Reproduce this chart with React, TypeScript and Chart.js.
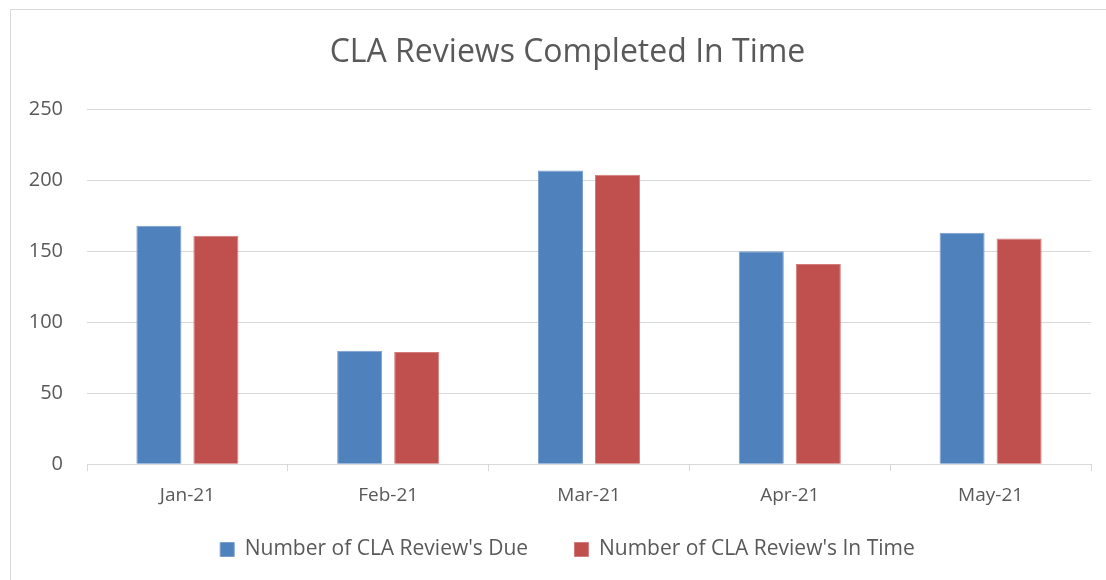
import React, { useEffect, useRef } from "react";
import { Chart, registerables } from "chart.js";
Chart.register(...registerables);

const titleText = "CLA Reviews Completed In Time";
const categories = ["Jan-21", "Feb-21", "Mar-21", "Apr-21", "May-21"];
const seriesNames = ["Number of CLA Review's Due", "Number of CLA Review's In Time"];
const dueValues = [168, 80, 207, 150, 163];
const inTimeValues = [161, 79, 204, 141, 159];
const yMin = 0;
const yMax = 250;
const yStep = 50;

const FONT = "'Open Sans', 'DejaVu Sans', sans-serif";
const TEXT = "#595959";
const GRID = "#d9d9d9";

export default function App() {
  const ref = useRef<HTMLCanvasElement | null>(null);
  useEffect(() => {
    if (!ref.current) return;
    const chart = new Chart(ref.current, {
      type: "bar",
      data: {
        labels: categories,
        datasets: [
          {
            label: seriesNames[0],
            data: dueValues,
            backgroundColor: "#4F81BD",
            borderColor: "#7A9FCF",
            borderWidth: 1,
          },
          {
            label: seriesNames[1],
            data: inTimeValues,
            backgroundColor: "#C0504D",
            borderColor: "#D27D7B",
            borderWidth: 1,
          },
        ],
      },
      options: {
        animation: false,
        responsive: false,
        maintainAspectRatio: false,
        layout: { padding: { left: 33, right: 28, top: 0, bottom: 11 } },
        datasets: { bar: { categoryPercentage: 0.568, barPercentage: 0.79 } },
        plugins: {
          title: {
            display: true,
            text: titleText,
            color: TEXT,
            font: { family: FONT, size: 32, weight: "normal" },
            padding: { top: 24, bottom: 37 },
          },
          legend: {
            position: "bottom",
            labels: {
              color: TEXT,
              font: { family: FONT, size: 21 },
              boxWidth: 14,
              boxHeight: 14,
              padding: 19,
              generateLabels: (c: any) => {
                const items = Chart.defaults.plugins.legend.labels.generateLabels(c);
                return items.map((it: any, i: number) => ({
                  ...it,
                  text: i === 0 ? it.text + "     " : it.text,
                }));
              },
            },
          },
          tooltip: { enabled: false },
        },
        scales: {
          x: {
            grid: {
              display: true,
              offset: true,
              drawOnChartArea: false,
              drawTicks: true,
              tickLength: 7,
              color: GRID,
            },
            border: { display: true, color: GRID },
            ticks: { color: TEXT, font: { family: FONT, size: 19 }, padding: 13 },
          },
          y: {
            min: yMin,
            max: yMax,
            ticks: { stepSize: yStep, color: TEXT, font: { family: FONT, size: 20 }, padding: 24 },
            grid: { color: GRID, drawTicks: false },
            border: { display: false },
            afterFit: (scale: any) => {
              scale.width = 43;
              scale._computeLabelArea = () => undefined;
            },
          },
        },
      },
    });
    return () => chart.destroy();
  }, []);
  return (
    <div
      style={{
        position: "absolute",
        left: 10,
        top: 9,
        width: 1110,
        height: 580,
        border: "1px solid #d9d9d9",
        background: "#fff",
        boxSizing: "border-box",
      }}
    >
      <canvas ref={ref} width={1108} height={571} style={{ display: "block" }} />
    </div>
  );
}
